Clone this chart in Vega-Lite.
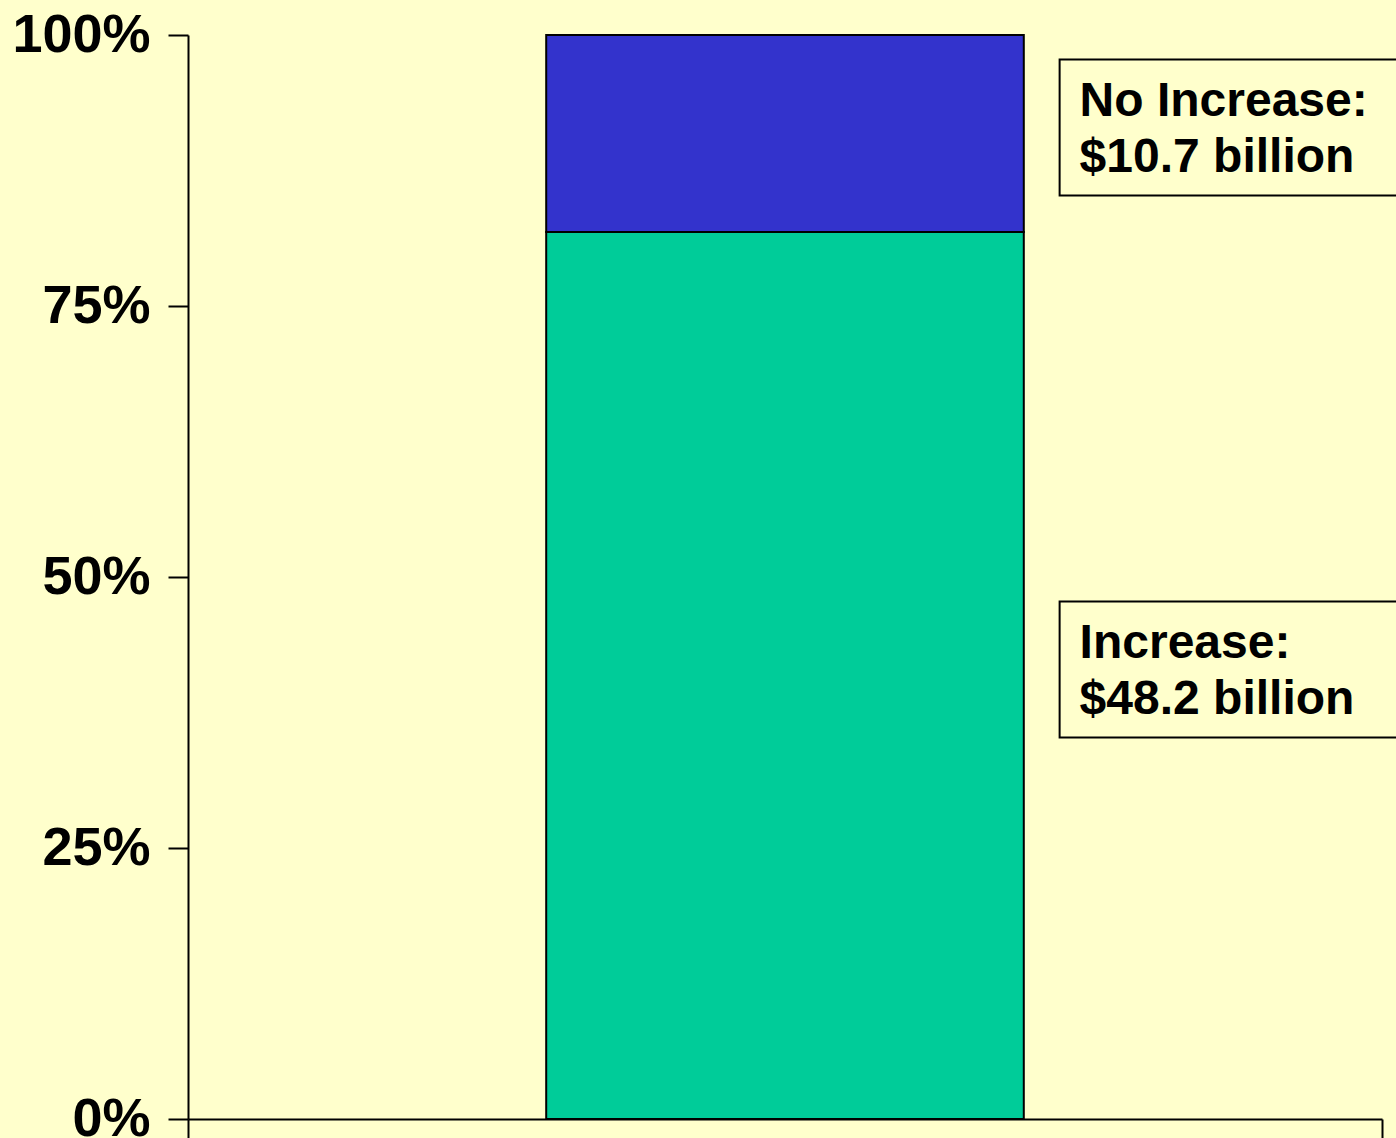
{
  "$schema": "https://vega.github.io/schema/vega-lite/v6.json",
  "width": 1194,
  "height": 1084,
  "autosize": "none",
  "padding": {"left": 188, "top": 35, "right": 14, "bottom": 19},
  "background": "#FFFFCC",
  "config": {"view": {"stroke": null}, "font": "Liberation Sans"},
  "data": {"values": [
    {"label": "Increase", "amount": 48.2, "order": 1},
    {"label": "No Increase", "amount": 10.7, "order": 2}
  ]},
  "transform": [
    {"stack": "amount", "groupby": [], "sort": [{"field": "order", "order": "ascending"}], "as": ["y0", "y1"], "offset": "normalize"},
    {"calculate": "(datum.y0 + datum.y1) / 2", "as": "mid"},
    {"calculate": "[datum.label + ':', '$' + format(datum.amount, '.1f') + ' billion']", "as": "text"}
  ],
  "layer": [
    {
      "mark": {"type": "rect", "stroke": "black", "strokeWidth": 2},
      "encoding": {
        "x": {"datum": 30, "type": "quantitative", "scale": {"domain": [0, 100], "nice": false, "zero": false},
          "axis": {"values": [0, 100], "labels": false, "title": null, "grid": false, "domainColor": "black", "domainWidth": 2, "tickColor": "black", "tickWidth": 2, "tickSize": 20}},
        "x2": {"datum": 70},
        "y": {"field": "y0", "type": "quantitative", "scale": {"domain": [0, 1], "nice": false},
          "axis": {"values": [0, 0.25, 0.5, 0.75, 1], "format": ".0%", "title": null, "grid": false, "domainColor": "black", "domainWidth": 2, "tickColor": "black", "tickWidth": 2, "tickSize": 20, "labelFontSize": 54, "labelFontWeight": "bold", "labelColor": "black", "labelPadding": 18, "labelFont": "Liberation Sans", "labelFlush": false, "labelOverlap": false, "labelBound": false}},
        "y2": {"field": "y1"},
        "fill": {"field": "label", "type": "nominal", "scale": {"domain": ["Increase", "No Increase"], "range": ["#00CC99", "#3333CC"]}, "legend": null}
      }
    },
    {
      "mark": {"type": "rect", "fill": "#FFFFCC", "stroke": "black", "strokeWidth": 2, "yOffset": -74, "y2Offset": 62},
      "encoding": {
        "x": {"datum": 73, "type": "quantitative"},
        "x2": {"datum": 104},
        "y": {"field": "mid", "type": "quantitative"},
        "y2": {"field": "mid"}
      }
    },
    {
      "mark": {"type": "text", "align": "left", "baseline": "alphabetic", "dx": 20, "dy": -17, "lineHeight": 56, "fontSize": 48, "fontWeight": "bold", "font": "Liberation Sans", "color": "black"},
      "encoding": {
        "x": {"datum": 73, "type": "quantitative"},
        "y": {"field": "mid", "type": "quantitative"},
        "text": {"field": "text"}
      }
    }
  ]
}
